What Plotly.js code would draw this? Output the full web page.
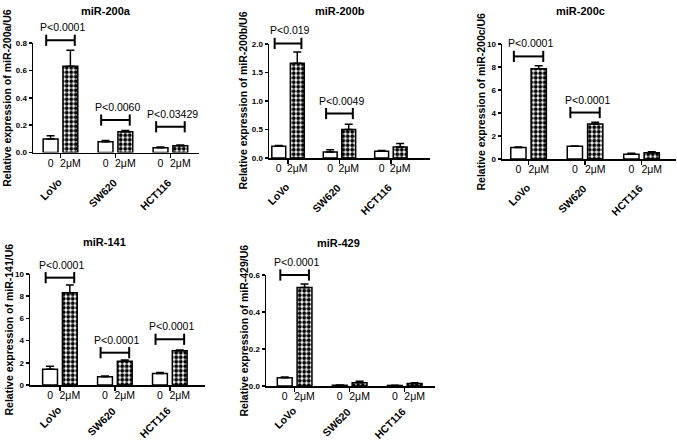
<!DOCTYPE html>
<html>
<head>
<meta charset="utf-8">
<script src="https://cdn.plot.ly/plotly-3.0.1.min.js"></script>
<style>html,body{margin:0;padding:0;background:#fff}#chart{width:677px;height:445px}</style>
</head>
<body>
<div id="chart"></div>
<script>
// ---------- data ----------
const categories = ['LoVo', 'SW620', 'HCT116'];
const doseLabels = ['0', '2\u03bcM'];
const panelTitles = ['miR-200a', 'miR-200b', 'miR-200c', 'miR-141', 'miR-429'];
const yTitles = ['Relative expression of miR-200a/U6', 'Relative expression of miR-200b/U6',
  'Relative expression of miR-200c/U6', 'Relative expression of miR-141/U6',
  'Relative expression of miR-429/U6'];

// miR-200a
const ctrl_200a = [0.098, 0.078, 0.034];
const ctrlErr_200a = [0.024, 0.010, 0.006];
const treat_200a = [0.630, 0.151, 0.049];
const treatErr_200a = [0.117, 0.010, 0.005];
const pText_200a = ['P<0.0001', 'P<0.0060', 'P<0.03429'];
const sigLevel_200a = [0.82, 0.237, 0.188];

// miR-200b
const ctrl_200b = [0.206, 0.106, 0.118];
const ctrlErr_200b = [0.014, 0.040, 0.012];
const treat_200b = [1.664, 0.500, 0.194];
const treatErr_200b = [0.194, 0.094, 0.059];
const pText_200b = ['P<0.019', 'P<0.0049', null];
const sigLevel_200b = [2.01, 0.78, null];

// miR-200c
const ctrl_200c = [1.01, 1.10, 0.41];
const ctrlErr_200c = [0.03, 0.03, 0.08];
const treat_200c = [7.85, 3.04, 0.55];
const treatErr_200c = [0.26, 0.15, 0.09];
const pText_200c = ['P<0.0001', 'P<0.0001', null];
const sigLevel_200c = [8.92, 4.04, null];

// miR-141
const ctrl_141 = [1.41, 0.74, 1.03];
const ctrlErr_141 = [0.27, 0.08, 0.09];
const treat_141 = [8.32, 2.15, 3.09];
const treatErr_141 = [0.68, 0.11, 0.06];
const pText_141 = ['P<0.0001', 'P<0.0001', 'P<0.0001'];
const sigLevel_141 = [9.67, 2.91, 4.12];

// miR-429
const ctrl_429 = [0.044, 0.004, 0.003];
const ctrlErr_429 = [0.004, 0.001, 0.001];
const treat_429 = [0.532, 0.018, 0.013];
const treatErr_429 = [0.020, 0.008, 0.004];
const pText_429 = ['P<0.0001', null, null];
const sigLevel_429 = [0.60, null, null];

const panelData = [
  {ctrl: ctrl_200a, ctrlErr: ctrlErr_200a, treat: treat_200a, treatErr: treatErr_200a, p: pText_200a, sig: sigLevel_200a},
  {ctrl: ctrl_200b, ctrlErr: ctrlErr_200b, treat: treat_200b, treatErr: treatErr_200b, p: pText_200b, sig: sigLevel_200b},
  {ctrl: ctrl_200c, ctrlErr: ctrlErr_200c, treat: treat_200c, treatErr: treatErr_200c, p: pText_200c, sig: sigLevel_200c},
  {ctrl: ctrl_141, ctrlErr: ctrlErr_141, treat: treat_141, treatErr: treatErr_141, p: pText_141, sig: sigLevel_141},
  {ctrl: ctrl_429, ctrlErr: ctrlErr_429, treat: treat_429, treatErr: treatErr_429, p: pText_429, sig: sigLevel_429}
];

// ---------- layout geometry (pixels in a 677x445 figure) ----------
const W = 677, H = 445;
const geom = [
  {x0: 33, x1: 199, yTop: 43, yBot: 152.5, xr: [-0.5, 2.52], top: 0.8, dtick: 0.2, fmt: '.1f', titleX: 106, titleY: 11, catDrop: 22, yTitleGap: 26},
  {x0: 269, x1: 430, yTop: 44, yBot: 158, xr: [-0.37, 2.76], top: 2.0, dtick: 0.5, fmt: '.1f', titleX: 340, titleY: 11, catDrop: 22, yTitleGap: 26.5},
  {x0: 502, x1: 676, yTop: 44, yBot: 159, xr: [-0.47, 2.61], top: 10, dtick: 2, fmt: '', titleX: 580, titleY: 11, catDrop: 22, yTitleGap: 22},
  {x0: 30, x1: 205, yTop: 274, yBot: 385, xr: [-0.545, 2.64], top: 10, dtick: 2, fmt: '', titleX: 104, titleY: 242, catDrop: 18, yTitleGap: 22},
  {x0: 266, x1: 435, yTop: 275, yBot: 386, xr: [-0.52, 2.55], top: 0.6, dtick: 0.2, fmt: '.1f', titleX: 338, titleY: 243, catDrop: 18, yTitleGap: 23}
];
const EXT = 1.2; // headroom of the invisible bracket layer

const FONT = 'Liberation Sans, Arial, sans-serif';
const BAR_OFF = 0.18, BAR_W = 0.27, BR_HALF = 0.26;

const traces = [];
const layout = {
  width: W, height: H,
  margin: {l: 0, r: 0, t: 0, b: 0, pad: 0},
  paper_bgcolor: 'white', plot_bgcolor: 'rgba(0,0,0,0)',
  showlegend: false,
  font: {family: FONT, color: 'black', size: 10.5},
  annotations: []
};

panelData.forEach((d, k) => {
  const i = k + 1;
  const s = i === 1 ? '' : String(i);
  const b = String(i + 5);
  const g = geom[k];
  const idx = categories.map((c, j) => j);
  const zeros = idx.map(() => 0);

  // bars
  traces.push({
    type: 'bar', xaxis: 'x' + s, yaxis: 'y' + s,
    x: idx.map(j => j - BAR_OFF), y: d.ctrl, width: BAR_W,
    marker: {color: 'white', line: {color: 'black', width: 1.5}},
    error_y: {type: 'data', symmetric: false, array: d.ctrlErr, arrayminus: zeros, color: 'black', thickness: 1.5, width: 4},
    hoverinfo: 'skip'
  });
  traces.push({
    type: 'bar', xaxis: 'x' + s, yaxis: 'y' + s,
    x: idx.map(j => j + BAR_OFF), y: d.treat, width: BAR_W,
    marker: {color: 'white', line: {color: 'black', width: 1.5},
      pattern: {shape: '.', fgcolor: 'black', bgcolor: 'white', size: 4.5, solidity: 0.6}},
    error_y: {type: 'data', symmetric: false, array: d.treatErr, arrayminus: zeros, color: 'black', thickness: 1.5, width: 4},
    hoverinfo: 'skip'
  });

  // significance brackets (on an invisible layer with headroom)
  idx.forEach(j => {
    if (d.p[j] === null) return;
    traces.push({
      type: 'scatter', mode: 'lines+markers', xaxis: 'x' + b, yaxis: 'y' + b,
      x: [j - BR_HALF, j + BR_HALF], y: [d.sig[j], d.sig[j]],
      line: {color: 'black', width: 2},
      marker: {symbol: 'line-ns-open', size: 8, line: {color: 'black', width: 2}},
      cliponaxis: false, hoverinfo: 'skip'
    });
    layout.annotations.push({
      xref: 'x' + b, yref: 'y' + b, x: j, y: d.sig[j],
      xanchor: 'center', yanchor: 'bottom', yshift: 5, xshift: 2, showarrow: false,
      text: d.p[j], font: {family: FONT, size: 10.5, color: 'black'}
    });
  });

  // category labels (rotated)
  idx.forEach(j => {
    layout.annotations.push({
      xref: 'x' + s, yref: 'y' + s + ' domain', x: j, y: 0,
      xanchor: 'right', yanchor: 'top', xshift: 5, yshift: -g.catDrop,
      textangle: -45, showarrow: false, borderpad: 0,
      text: categories[j], font: {family: FONT, size: 10.5, color: 'black', weight: 'bold'}
    });
  });

  // y-axis title
  layout.annotations.push({
    xref: 'x' + s + ' domain', yref: 'y' + s + ' domain', x: 0, y: 0.5,
    xanchor: 'center', yanchor: 'middle', xshift: -g.yTitleGap,
    textangle: -90, showarrow: false, borderpad: 0,
    text: yTitles[k], font: {family: FONT, size: 10.5, color: 'black', weight: 'bold'}
  });

  const xdom = [g.x0 / W, g.x1 / W];
  const ydom = [1 - g.yBot / H, 1 - g.yTop / H];
  const ydomB = [1 - g.yBot / H, 1 - (g.yBot - (g.yBot - g.yTop) * EXT) / H];
  const tickvals = [], ticktext = [];
  idx.forEach(j => { tickvals.push(j - BAR_OFF, j + BAR_OFF); ticktext.push(doseLabels[0], doseLabels[1]); });

  layout['xaxis' + s] = {
    domain: xdom, anchor: 'y' + s, range: g.xr,
    showline: true, linecolor: 'black', linewidth: 1.5,
    showgrid: false, zeroline: false,
    tickmode: 'array', tickvals: tickvals, ticktext: ticktext, ticks: '',
    tickfont: {family: FONT, size: 10.5, color: 'black'},
    minor: {tickmode: 'array', tickvals: idx, ticks: 'outside', ticklen: 4, tickwidth: 1.5, tickcolor: 'black', showgrid: false}
  };
  layout['yaxis' + s] = {
    domain: ydom, anchor: 'x' + s, range: [0, g.top],
    showline: true, linecolor: 'black', linewidth: 1.5,
    showgrid: false, zeroline: false,
    ticks: 'outside', ticklen: 3, tickwidth: 1.5, tickcolor: 'black',
    tickmode: 'linear', tick0: 0, dtick: g.dtick, tickformat: g.fmt,
    tickfont: {family: FONT, size: 8, color: 'black', weight: 'bold'}
  };
  layout['xaxis' + b] = {domain: xdom, anchor: 'y' + b, range: g.xr, visible: false, fixedrange: true};
  layout['yaxis' + b] = {domain: ydomB, anchor: 'x' + b, range: [0, g.top * EXT], visible: false, fixedrange: true};

  layout.annotations.push({
    xref: 'paper', yref: 'paper', x: g.titleX / W, y: 1 - g.titleY / H,
    xanchor: 'center', yanchor: 'middle', showarrow: false,
    text: panelTitles[k], font: {family: FONT, size: 11, color: 'black', weight: 'bold'}
  });
});

Plotly.newPlot('chart', traces, layout, {displayModeBar: false, staticPlot: true});
</script>
</body>
</html>
